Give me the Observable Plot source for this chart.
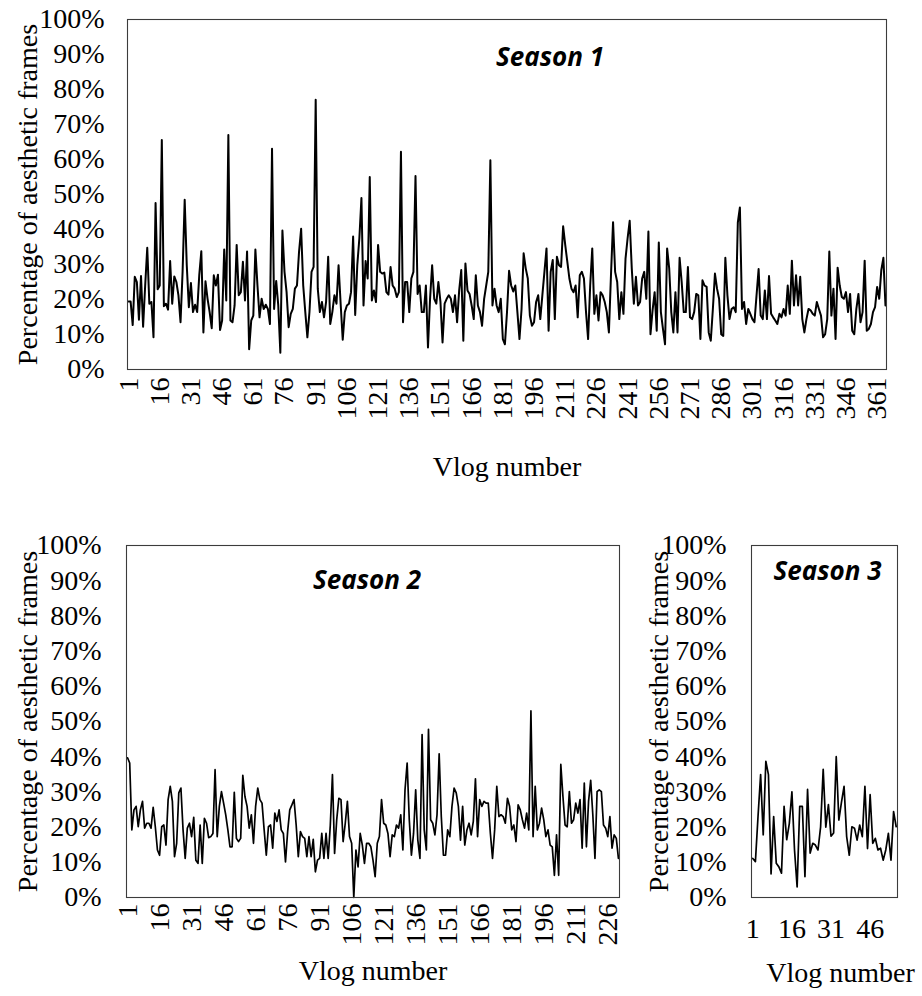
<!DOCTYPE html>
<html>
<head>
<meta charset="utf-8">
<script src="https://cdn.jsdelivr.net/npm/d3@7"></script>
<script src="https://cdn.jsdelivr.net/npm/@observablehq/plot@0.6"></script>
<style>
  html, body { margin: 0; padding: 0; background: #fff; }
  #chart { position: relative; width: 922px; height: 996px; overflow: hidden; background: #fff; }
  #chart .panel { position: absolute; }
  #chart .panel text { font-family: 'Liberation Serif', 'Times New Roman', serif; }
</style>
</head>
<body>
<div id="chart"></div>
<script>
// Share of aesthetic frames per vlog (percent), one array per season
const season1 = [
  19.4, 19.4, 12.7, 26.5, 25, 14.2, 26.7, 12.2, 24, 34.8,
  18.8, 19.3, 9.2, 47.6, 22.9, 24, 65.6, 18.1, 18.8, 17.1,
  31, 18.8, 26.6, 25, 21.2, 13.5, 28, 48.5, 29.8, 17.8,
  24.7, 16.4, 18.5, 16.4, 26.9, 33.8, 10.6, 25.2, 20.2, 16.4,
  11.8, 26.9, 24, 27.1, 11.3, 14, 34.3, 19.7, 67, 14,
  13.5, 18.3, 35.6, 21.2, 22.1, 30.8, 19.7, 33.7, 5.8, 14,
  15.4, 34.3, 24, 14.9, 20.2, 17.3, 18.5, 17.3, 13, 63.1,
  17.3, 25.3, 18.3, 4.8, 39.7, 27.9, 22.1, 12.1, 15.9, 17.3,
  23.1, 24, 33.7, 40.2, 24, 16.4, 9.2, 16.4, 27.9, 29.3,
  77.1, 23.1, 16.4, 19.3, 14.9, 19.3, 32.2, 13, 16.4, 21.2,
  18.8, 29.8, 18.8, 8.5, 16.4, 18.3, 18.8, 22.1, 38, 15.6,
  29.8, 37.5, 49, 18.3, 31, 26, 55, 19.7, 22.6, 19.3,
  35.6, 27.9, 27.4, 27.7, 22.1, 21.4, 29.3, 24, 23.1, 20.7,
  22.1, 62.2, 13.5, 25, 25, 16.4, 26, 27.9, 55.3, 21.6,
  24, 16.4, 16.4, 24, 6.3, 20.2, 29.8, 20.2, 18.8, 25,
  19.3, 7.7, 18.8, 20.2, 21.2, 20.2, 16.4, 21.2, 13.5, 22.6,
  28.4, 8.2, 30.3, 22.6, 21.6, 18.3, 14.4, 26.9, 18.3, 16.4,
  12.5, 20.2, 24, 27.9, 59.8, 18.3, 23.1, 18.3, 16.4, 20.2,
  8.7,
  7.2, 16.4, 28.2, 24, 22.3, 24, 16.4, 8.7, 17.3, 33.2,
  28.9, 26, 15.4, 12.5, 13.5, 19.3, 21.2, 14.4, 21.2, 27.9,
  34.6, 11.1, 27.9, 31.3, 14.4, 32.2, 29.8, 29.3, 40.9, 35.6,
  30.8, 26, 23.1, 22.1, 24, 14.9, 26.9, 27.9, 26, 16.4,
  8.7, 24, 34.6, 15.9, 21.2, 14, 22.1, 21.2, 19.3, 16.4,
  10.6, 26.9, 42.1, 27.9, 25, 14.4, 22.1, 15.9, 31.7, 37.5,
  42.5, 28.9, 18.8, 26.5, 18.3, 19.3, 26, 27.9, 20.2, 39.4,
  10.1, 16.9, 22.1, 11.1, 36.3, 16.4, 11.6, 7.2, 34.6, 28.9,
  16.4, 10.6, 22.1, 10.6, 31.9, 25, 16.4, 16.4, 29.3, 14.9,
  14.4, 16.4,
  21.6, 21.2, 8.7, 25.5, 24, 23.6, 10.6, 8.2, 17.3, 27.4,
  23.1, 20.2, 10.1, 9.6, 31.9, 21.2, 14.4, 17.3, 17.8, 16.4,
  42, 46.3, 17.3, 19.3, 13, 17.3, 15.9, 14.4, 13.5, 21.2,
  28.7, 15.4, 14.4, 22.6, 14.4, 26.7, 15.9, 14.9, 14, 13,
  15.9, 14.9, 17.3, 15.4, 24, 15.9, 31.1, 18.3, 26.9, 18.3,
  26.5, 14.4, 10.6, 14.4, 17.3, 16.9, 15.9, 15.4, 19.3, 17.3,
  15.4, 9.2, 10.1, 14.4, 33.7, 15.4, 23.1, 8.7, 29.1, 24,
  20.7, 20.2, 22.1, 16.4, 21.6, 11.1, 10.1, 17.3, 21.6, 13.5,
  16.4, 31.1, 11.1, 11.6, 13, 16.4, 17.8, 23.6, 20.2, 28.4,
  31.9, 18.3
];

const season2 = [
  39.7, 38.2, 19.2, 24.9, 25.9, 20.1, 24.9, 27.3, 19.7, 21.1,
  21.1, 19.7, 25.6, 20.1, 13.5, 12, 20.1, 20.6, 14.9, 27.8,
  31.6, 27.3, 11.6, 15.4, 29.7, 31.1, 19.2, 11.1, 19.7, 21.1,
  17.3, 22.8, 10.6, 9.7, 20.6, 9.7, 22.5, 21.1, 17, 17.3,
  18.2, 36.3, 17.3, 25.9, 30.1, 26.8, 23.5, 19.2, 14.4, 14.4,
  29.9, 16.8, 15.9, 16.8, 34.7, 28.7, 25.9, 19.7, 23.5, 15.4,
  25.9, 31.1, 27.8, 26.8, 19.2, 12, 20.1, 20.6, 14, 24,
  21.6, 24.9, 19.2, 18.2, 10.1, 18.7, 24.9, 26.3, 27.8, 20.6,
  11.6, 18.7, 17.3, 16.8, 11.6, 17.3, 11.6, 16.5, 7.3, 10.6,
  11.1, 18.2, 11.1, 18.2, 11.1, 20.6, 34.9, 12.5, 22.1, 28.2,
  27.8, 15.9, 21.1, 27.3, 17.3, 15.4, 0, 13.5, 8.7, 18.2,
  14.9, 9.7, 15.4, 15.4,
  14.4, 10.6, 5.9, 15.4, 17.3, 27.8, 21.1, 20.6, 18.2, 11.6,
  17.8, 17.3, 20.6, 19.7, 23.5, 13.5, 30.6, 38.2, 22.1, 12,
  18.2, 30.6, 16.3, 11.1, 46.3, 19.2, 13.5, 47.8, 22.1, 21.1,
  17.8, 23.5, 40.8, 23, 12, 12, 19.2, 17.3, 25.9, 31.1,
  29.7, 25.9, 16.3, 25.9, 14.9, 19.2, 21.1, 17.8, 21.6, 33.7,
  17.3, 27.8, 25.9, 27.3, 26.8, 26.8, 18.2, 11.1, 19.2, 31.6,
  23, 23.5, 23, 21.1, 28.2, 25.9, 19.2, 20.6, 15.9, 26.3,
  24.9, 22.1, 19.7, 24, 19.2, 53, 17.3, 31.6, 19.2, 21.1,
  25.4, 22.1, 17.3, 19.2, 14.9, 14.4, 6.3, 17.8, 6.3, 37.8,
  28.7, 20.6, 20.1, 30.1, 21.1, 22.1, 26.8, 24, 27.8, 14,
  32.5, 14.4, 27.3, 33.3, 23.5, 11.1, 30.1, 30.6, 30.1, 20.6,
  19.7, 17.3, 23, 14, 17.8, 16.8, 11.1
];

const season3 = [
  11.1, 10.2, 23, 34.9, 17.8, 38.7, 34.9, 6.7, 23, 9.7,
  8.7, 6.9, 25.9, 16.4, 21, 30, 13.5, 3, 25.9, 25.9,
  5.9, 30.7, 12.6, 15.4, 14.9, 13.5, 20, 36.4, 20, 26.4,
  17.4, 18.3, 40, 22, 27, 31.6, 17.3, 12, 20.1, 19.7,
  16.3, 20.6, 17.3, 31.6, 13.9, 29.2, 15.4, 16.8, 13.5, 14,
  10.6, 13.5, 18.2, 10.6, 24.4, 20.1
];

// Category tick labels shown under each panel
const ticks1 = [1, 16, 31, 46, 61, 76, 91, 106, 121, 136, 151, 166, 181, 196, 211, 226, 241, 256, 271, 286, 301, 316, 331, 346, 361];
const ticks2 = [1, 16, 31, 46, 61, 76, 91, 106, 121, 136, 151, 166, 181, 196, 211, 226];
const ticks3 = [1, 16, 31, 46];
const yTicks = [0, 10, 20, 30, 40, 50, 60, 70, 80, 90, 100];

const seasonNames = ["Season 1", "Season 2", "Season 3"];
const yTitle = "Percentage of aesthetic frames";
const xTitle = "Vlog number";

const serif = "'Liberation Serif', 'Times New Roman', serif";
const sans = "'Open Sans', sans-serif";

function drawPanel(cfg) {
  const data = cfg.values.map((v, i) => ({n: i + 1, v}));
  const n = cfg.values.length;
  const plot = Plot.plot({
    width: cfg.width,
    height: cfg.height,
    marginLeft: cfg.margin[3],
    marginRight: cfg.margin[1],
    marginTop: cfg.margin[0],
    marginBottom: cfg.margin[2],
    style: {fontFamily: serif, fontSize: "28px", color: "#000", background: "transparent", overflow: "visible"},
    x: {domain: [0.5, n + 0.5]},
    y: {domain: [0, 100]},
    marks: [
      Plot.lineY(data, {x: "n", y: "v", stroke: "#000", strokeWidth: cfg.strokeWidth}),
      Plot.frame({stroke: "#3c3c3c", strokeWidth: 1.1}),
      Plot.axisY({ticks: yTicks, tickFormat: d => `${d}%`, tickSize: 0, tickPadding: cfg.yPad, label: null,
        fontSize: 28, fontFamily: serif, fontVariant: "normal"}),
      Plot.axisX({ticks: cfg.ticks, tickFormat: d => `${d}`, tickSize: 0, tickPadding: cfg.xPad, tickRotate: cfg.rotate, label: null,
        fontSize: 28, fontFamily: serif, fontVariant: "normal"}),
      Plot.text([yTitle], {text: d => d, frameAnchor: "left", textAnchor: "middle", rotate: -90, dx: cfg.yTitleDx, fontSize: 28, fontFamily: serif}),
      Plot.text([xTitle], {text: d => d, frameAnchor: "bottom", textAnchor: "middle", dx: cfg.xTitleDx, dy: cfg.xTitleDy, fontSize: 28, fontFamily: serif}),
      Plot.text([cfg.name], {text: d => d, frameAnchor: "top", textAnchor: "middle", dx: cfg.nameDx, dy: cfg.nameDy,
        fontSize: 26, fontFamily: sans, fontStyle: "italic", fontWeight: "bold", className: "season-name"})
    ]
  });
  plot.classList.add("panel");
  plot.style.left = cfg.left + "px";
  plot.style.top = cfg.top + "px";
  // the season name keeps its sans-serif face
  plot.querySelectorAll("text").forEach(t => {
    if (seasonNames.includes(t.textContent)) t.style.fontFamily = sans;
  });
  document.getElementById("chart").appendChild(plot);
}

drawPanel({
  values: season1, ticks: ticks1, name: seasonNames[0],
  left: 0, top: 0, width: 922, height: 500, margin: [19, 36, 131, 127],
  strokeWidth: 2, yPad: 23, xPad: 8, rotate: -90,
  yTitleDx: -99, xTitleDx: 0, xTitleDy: 106, nameDx: 43, nameDy: 28
});

drawPanel({
  values: season2, ticks: ticks2, name: seasonNames[1],
  left: 0, top: 500, width: 635, height: 496, margin: [45, 16, 99, 126],
  strokeWidth: 1.7, yPad: 25, xPad: 6, rotate: -90,
  yTitleDx: -98, xTitleDx: 0, xTitleDy: 82, nameDx: -6, nameDy: 25
});

drawPanel({
  values: season3, ticks: ticks3, name: seasonNames[2],
  left: 635, top: 500, width: 287, height: 496, margin: [45, 25, 99, 116],
  strokeWidth: 1.7, yPad: 25, xPad: 21, rotate: 0,
  yTitleDx: -92, xTitleDx: 16, xTitleDy: 84, nameDx: 3, nameDy: 16
});
</script>
</body>
</html>
